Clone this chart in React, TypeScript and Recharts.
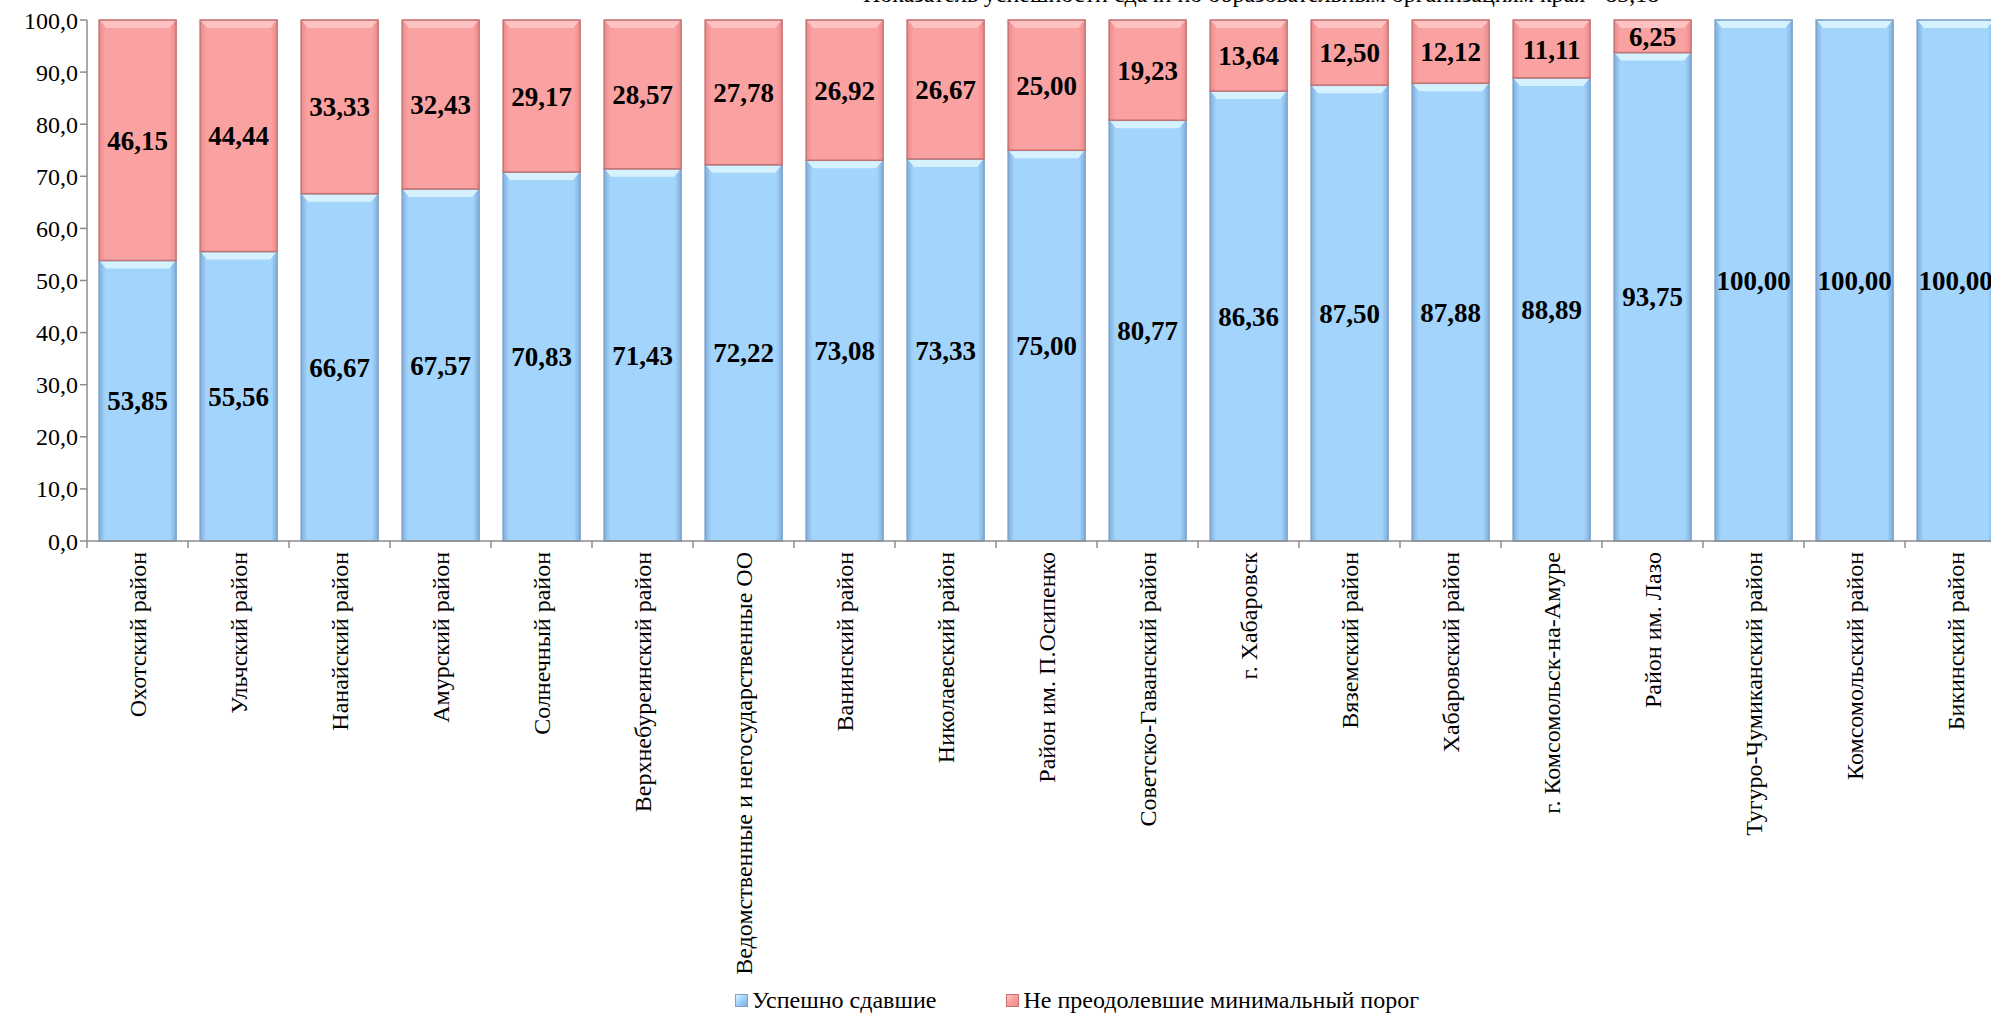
import { BarChart, Bar, XAxis, YAxis, Legend, LabelList } from "recharts";

const categories = [
  "Охотский район",
  "Ульчский район",
  "Нанайский район",
  "Амурский район",
  "Солнечный район",
  "Верхнебуреинский район",
  "Ведомственные и негосударственные ОО",
  "Ванинский район",
  "Николаевский район",
  "Район им. П.Осипенко",
  "Советско-Гаванский район",
  "г. Хабаровск",
  "Вяземский район",
  "Хабаровский район",
  "г. Комсомольск-на-Амуре",
  "Район им. Лазо",
  "Тугуро-Чумиканский район",
  "Комсомольский район",
  "Бикинский район",
];
const passed = [53.85, 55.56, 66.67, 67.57, 70.83, 71.43, 72.22, 73.08, 73.33, 75.0, 80.77, 86.36, 87.5, 87.88, 88.89, 93.75, 100, 100, 100];
const failed = [46.15, 44.44, 33.33, 32.43, 29.17, 28.57, 27.78, 26.92, 26.67, 25.0, 19.23, 13.64, 12.5, 12.12, 11.11, 6.25, 0, 0, 0];
const yTicks = [0, 10, 20, 30, 40, 50, 60, 70, 80, 90, 100];

const FONT = "'Liberation Serif', 'Times New Roman', serif";
const CHART_W = 2006;
const Y_W = 87;
const CAT_W = (CHART_W - Y_W) / categories.length;

const data = categories.map((name, i) => ({ name, passed: passed[i], failed: failed[i] }));

const palettes = {
  blue: { edge: "#80AEDC", mid: "#A3D4FB", top: "#DDF5FF", stroke: "#7CA3CA" },
  red: { edge: "#EC8A8A", mid: "#FAA1A1", top: "#FDC6C6", stroke: "#C47272" },
};

function BevelBar(props: any) {
  const { x, y, width, height, kind } = props;
  if (!height || height <= 0) return null;
  const p = palettes[kind as "blue" | "red"];
  const b = Math.min(8, height / 2);
  return (
    <g>
      <rect x={x} y={y} width={width} height={height} fill={`url(#grad-${kind})`} stroke={p.stroke} strokeWidth={1.5} />
      <polygon
        points={`${x + 1},${y + 1} ${x + width - 1},${y + 1} ${x + width - 7},${y + b} ${x + 7},${y + b}`}
        fill={p.top}
        opacity={0.9}
      />
    </g>
  );
}

const fmt = (v: any) => (v ? Number(v).toFixed(2).replace(".", ",") : "");

function CatTick(props: any) {
  const { x, y, payload } = props;
  return (
    <g>
      <line x1={x - CAT_W / 2} x2={x - CAT_W / 2} y1={y - 8} y2={y - 1} stroke="#8c8c8c" strokeWidth={1.5} />
      <text
        x={0}
        y={0}
        transform={`translate(${x + 8},${y + 3}) rotate(-90)`}
        textAnchor="end"
        fontSize={24}
        fontFamily={FONT}
        fill="#000"
      >
        {payload.value}
      </text>
    </g>
  );
}

function LegendContent() {
  const items = [
    { label: "Успешно сдавшие", kind: "blue" },
    { label: "Не преодолевшие минимальный порог", kind: "red" },
  ];
  return (
    <div style={{ display: "flex", gap: 70, fontFamily: FONT, fontSize: 24, color: "#000", justifyContent: "flex-start" }}>
      {items.map((it) => {
        const p = palettes[it.kind as "blue" | "red"];
        return (
          <div key={it.label} style={{ display: "flex", alignItems: "center", gap: 4 }}>
            <span
              style={{
                width: 11,
                height: 11,
                background: `linear-gradient(135deg, ${p.top}, ${p.mid} 45%, ${p.edge})`,
                border: `1px solid ${p.stroke}`,
                display: "inline-block",
              }}
            />
            <span>{it.label}</span>
          </div>
        );
      })}
    </div>
  );
}

export default function App() {
  return (
    <div style={{ position: "fixed", left: 0, top: 0, width: 1991, height: 1014, overflow: "hidden", background: "#fff" }}>
      <div
        style={{
          position: "absolute",
          top: -19,
          left: 863,
          fontFamily: FONT,
          fontSize: 24,
          whiteSpace: "nowrap",
          color: "#000",
        }}
      >
        Показатель успешности сдачи по образовательным организациям края - 83,18
      </div>
      <BarChart
        width={CHART_W}
        height={1014}
        data={data}
        margin={{ top: 20, right: 0, left: 0, bottom: 0 }}
        barCategoryGap="12%"
        style={{ position: "absolute", left: 0, top: 0 }}
      >
        <defs>
          {(["blue", "red"] as const).map((k) => (
            <linearGradient key={k} id={`grad-${k}`} x1="0" y1="0" x2="1" y2="0">
              <stop offset="0%" stopColor={palettes[k].edge} />
              <stop offset="8%" stopColor={palettes[k].mid} />
              <stop offset="92%" stopColor={palettes[k].mid} />
              <stop offset="100%" stopColor={palettes[k].edge} />
            </linearGradient>
          ))}
        </defs>
        <XAxis
          dataKey="name"
          interval={0}
          height={446}
          tick={<CatTick />}
          tickLine={false}
          axisLine={{ stroke: "#8c8c8c", strokeWidth: 1.5 }}
        />
        <YAxis
          width={Y_W}
          domain={[0, 100]}
          ticks={yTicks}
          interval={0}
          tickFormatter={(v: number) => v.toFixed(1).replace(".", ",")}
          tick={{ fontSize: 24, fontFamily: FONT, fill: "#000" }}
          tickSize={7}
          tickMargin={2}
          tickLine={{ stroke: "#8c8c8c", strokeWidth: 1.5 }}
          axisLine={{ stroke: "#8c8c8c", strokeWidth: 1.5 }}
        />
        <Legend verticalAlign="bottom" content={<LegendContent />} wrapperStyle={{ left: 735, width: 800, bottom: 0 }} />
        <Bar
          dataKey="passed"
          stackId="a"
          name="Успешно сдавшие"
          fill="#A3D4FB"
          isAnimationActive={false}
          shape={(p: any) => <BevelBar {...p} kind="blue" />}
        >
          <LabelList
            dataKey="passed"
            position="center"
            formatter={fmt}
            style={{ fontSize: 27, fontWeight: "bold", fontFamily: FONT, fill: "#000" }}
          />
        </Bar>
        <Bar
          dataKey="failed"
          stackId="a"
          name="Не преодолевшие минимальный порог"
          fill="#FAA1A1"
          isAnimationActive={false}
          shape={(p: any) => <BevelBar {...p} kind="red" />}
        >
          <LabelList
            dataKey="failed"
            position="center"
            formatter={fmt}
            style={{ fontSize: 27, fontWeight: "bold", fontFamily: FONT, fill: "#000" }}
          />
        </Bar>
      </BarChart>
    </div>
  );
}
